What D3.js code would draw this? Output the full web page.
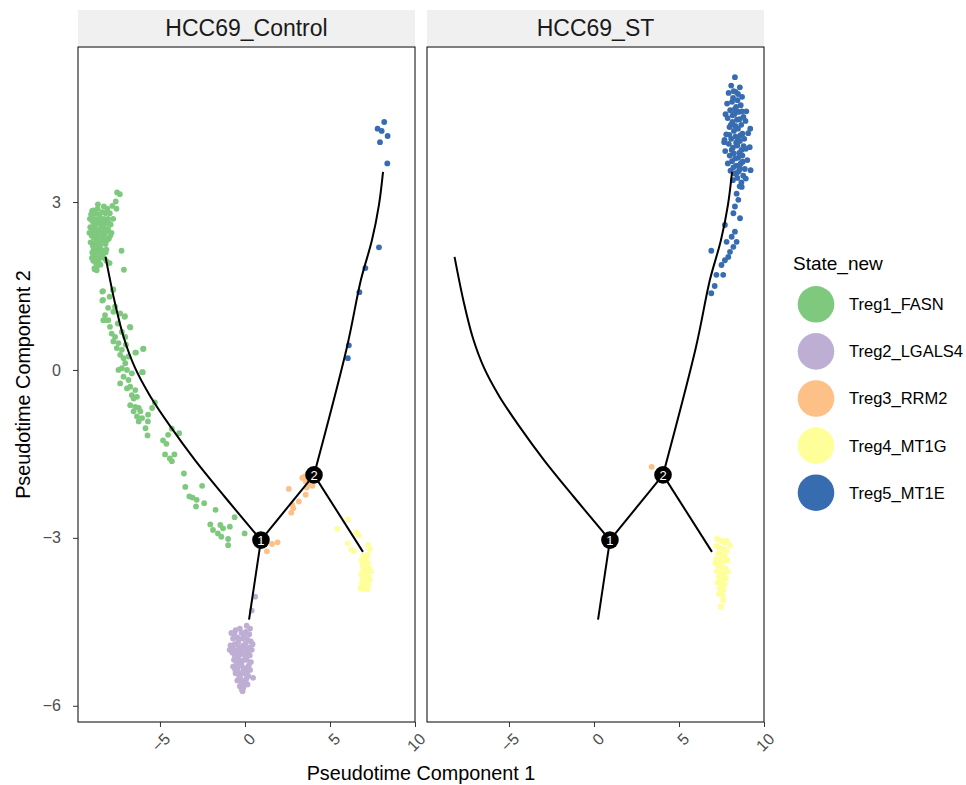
<!DOCTYPE html>
<html><head><meta charset="utf-8">
<script src="https://cdn.jsdelivr.net/npm/d3@7"></script>
<style>body{margin:0;background:#fff;} text{font-family:"Liberation Sans",Arial,sans-serif;}</style>
</head><body><svg id="c" width="966" height="785"></svg>
<script>
const states = ["Treg1_FASN","Treg2_LGALS4","Treg3_RRM2","Treg4_MT1G","Treg5_MT1E"];
const stateColors = ["#7FC97F","#BEAED4","#FDC086","#FFFF99","#386CB0"];
const panelNames = ["HCC69_Control","HCC69_ST"];
const xTicks = [-5,0,5,10];
const yTicks = [-6,-3,0,3];
const xDomain = [-9.82,10.0];
const yDomain = [-6.29,5.77];

// HCC69_Control cells
const ctrlTreg1 = [
[-9.05,2.78],[-8.92,2.85],[-8.80,2.80],[-8.66,2.88],[-8.55,2.76],[-8.40,2.82],[-8.30,2.70],[-8.98,2.66],[-8.85,2.70],[-8.70,2.62],
[-8.58,2.68],[-8.45,2.60],[-8.32,2.55],[-8.20,2.62],[-9.10,2.55],[-8.95,2.50],[-8.82,2.56],[-8.68,2.48],[-8.52,2.52],[-8.38,2.44],
[-8.25,2.40],[-8.12,2.48],[-9.02,2.40],[-8.90,2.36],[-8.76,2.42],[-8.62,2.34],[-8.48,2.38],[-8.35,2.30],[-8.20,2.25],[-9.08,2.28],
[-8.95,2.22],[-8.80,2.26],[-8.66,2.18],[-8.52,2.22],[-8.40,2.14],[-8.98,2.10],[-8.85,2.06],[-8.72,2.12],[-8.58,2.02],[-8.45,2.08],
[-8.92,1.95],[-8.78,1.92],[-8.64,1.96],[-8.50,1.88],[-8.84,1.80],[-8.70,1.85],[-8.05,2.70],[-7.95,2.80],[-8.10,2.88],[-7.90,2.60],
[-8.00,2.35],[-8.15,2.15],[-7.85,2.45],[-7.60,3.01],[-7.80,2.93],[-7.52,3.17],[-7.36,3.14],[-8.65,2.96],[-8.99,2.84],[-7.56,2.88],
[-7.26,2.13],[-7.12,1.79],[-7.96,1.91],[-8.85,1.82],[-9.15,2.45],[-9.12,2.70],[-8.30,2.92],[-8.20,2.80],[-8.05,2.52],[-7.75,2.70],
[-8.30,2.00],[-8.15,1.95],
[-8.88,2.62],[-8.62,2.78],[-8.74,2.30],[-8.47,2.48],[-8.90,2.16],[-8.58,2.12],[-8.34,2.36],[-8.78,2.02],[-8.60,1.92],[-8.26,2.50],
[-8.42,2.68],[-8.86,2.42],[-9.00,2.00],[-8.72,1.78],[-8.50,2.28],[-8.20,2.10],[-8.10,2.32],[-8.00,2.62],[-7.92,2.40],[-8.40,2.02],
[-8.35,1.41],[-8.35,1.25],[-7.76,1.43],[-7.96,1.31],[-8.05,1.11],[-7.06,0.96],[-6.77,0.77],[-8.26,0.89],[-5.97,0.38],[-6.41,0.31],
[-6.01,-0.04],[-8.39,1.40],[-7.74,1.44],[-8.39,1.24],[-7.08,0.95],[-6.74,0.76],[-5.99,0.375],[-6.45,0.31],[-6.05,-0.04],[-5.30,-0.58],
[-5.46,-0.68],[-5.71,-0.92],[-5.85,-1.04],[-5.73,-1.17],[-4.30,-1.05],[-3.87,-1.13],[-4.52,-1.16],[-4.82,-1.26],[-4.62,-1.32],[-4.70,-1.51],
[-4.15,-1.51],[-4.42,-1.58],[-4.30,-1.63],[-3.59,-1.85],[-3.51,-2.09],[-2.52,-2.07],[-3.27,-2.26],[-3.08,-2.28],[-2.84,-2.32],[-2.88,-2.44],
[-2.40,-2.38],[-1.73,-2.50],[-0.61,-2.63],[-2.04,-2.76],[-1.88,-2.86],[-1.45,-2.77],[-1.29,-2.83],[-0.89,-2.80],[-1.59,-2.92],[-1.39,-2.98],
[-0.99,-3.02],[-0.99,-3.13],[-0.02,-2.92],
[-8.23,0.98],[-8.04,0.89],[-8.33,0.89],[-7.94,0.77],[-7.84,0.65],[-7.64,0.59],[-7.74,0.51],[-7.44,0.48],[-7.54,0.39],[-7.24,0.36],
[-7.34,0.27],[-7.14,0.21],[-7.04,0.12],[-7.24,0.03],[-6.94,0.00],[-7.14,-0.12],[-7.34,-0.24],[-6.85,-0.18],[-6.75,-0.30],[-6.94,-0.33],
[-6.45,-0.36],[-6.65,-0.45],[-6.55,-0.51],[-6.35,-0.48],[-6.75,-0.63],[-6.45,-0.66],[-6.25,-0.68],[-6.55,-0.74],[-6.15,-0.74],[-6.35,-0.83],
[-6.05,-0.86],[-6.25,-0.92],[-5.70,-0.80],[-7.64,1.13],[-7.34,1.01],[-7.74,1.04],[-7.48,0.83],[-7.24,0.68],[-7.04,0.59],[-7.00,0.45],
[-6.85,0.24],[-6.65,-0.06],[-7.44,0.00]
];
const ctrlTreg2 = [
[0.60,-4.05],[0.40,-4.30],[0.10,-4.57],
[-0.80,-4.70],[-0.55,-4.65],[-0.30,-4.62],[0.05,-4.68],[0.25,-4.72],[-0.70,-4.80],[-0.45,-4.78],[-0.15,-4.80],[0.15,-4.82],[0.35,-4.85],
[-0.85,-4.92],[-0.60,-4.90],[-0.35,-4.95],[-0.10,-4.92],[0.20,-4.96],[0.40,-5.00],[-0.75,-5.05],[-0.50,-5.02],[-0.25,-5.08],[0.00,-5.05],
[0.28,-5.10],[-0.65,-5.18],[-0.40,-5.15],[-0.15,-5.20],[0.10,-5.18],[0.35,-5.22],[-0.70,-5.30],[-0.45,-5.32],[-0.20,-5.28],[0.05,-5.33],
[0.30,-5.36],[-0.55,-5.42],[-0.30,-5.45],[-0.05,-5.42],[0.20,-5.47],[-0.45,-5.55],[-0.20,-5.58],[0.05,-5.55],[0.48,-5.50],[-0.30,-5.65],
[-0.10,-5.68],[-0.14,-5.74],[0.15,-5.62],[-0.60,-5.10],[0.45,-4.90],[-0.90,-5.00],[-0.20,-4.70],[0.30,-4.62],[0.00,-4.95],[-0.50,-5.25],
[0.12,-5.40],[-0.35,-5.50],
[-0.62,-4.72],[-0.05,-4.76],[-0.40,-4.86],[0.05,-4.88],[-0.70,-4.98],[-0.22,-5.00],[0.18,-5.04],[-0.52,-5.12],[0.02,-5.14],[-0.30,-5.22],
[0.22,-5.28],[-0.58,-5.35],[-0.10,-5.36],[-0.40,-5.40],[0.10,-5.50],[-0.25,-5.52],[-0.05,-5.62],[-0.20,-5.70]
];
const ctrlTreg3 = [
[2.58,-2.125],[3.37,-1.93],[3.57,-1.99],[3.71,-2.07],[3.87,-2.02],[3.51,-1.90],[3.63,-2.10],[3.57,-2.23],[3.17,-2.35],[2.78,-2.41],
[2.84,-2.47],[2.72,-2.55],[3.97,-2.07],[1.59,-3.11],[1.92,-3.08],[1.29,-3.24]
];
const ctrlTreg4 = [
[6.05,-2.67],[5.42,-2.84],[6.55,-2.90],[6.69,-2.96],[6.05,-3.10],[6.25,-3.21],[6.41,-3.24],[7.24,-3.125],[7.34,-3.20],
[6.95,-3.32],[7.15,-3.35],[6.85,-3.40],[7.05,-3.42],[7.25,-3.45],[6.90,-3.50],[7.10,-3.52],[7.30,-3.55],[6.95,-3.58],[7.15,-3.62],
[6.85,-3.65],[7.05,-3.68],[7.28,-3.70],[6.92,-3.74],[7.12,-3.76],[7.35,-3.75],[6.88,-3.82],[7.08,-3.84],[7.25,-3.85],[6.80,-3.90],
[7.00,-3.92],[7.20,-3.92],[7.40,-3.60],[7.20,-3.30]
];
const ctrlTreg5 = [
[8.19,4.43],[7.80,4.31],[8.04,4.27],[8.39,4.18],[7.94,4.07],[8.37,3.69],[7.88,2.19],[7.08,1.82],[6.73,1.39],[6.11,0.44],[6.05,0.21]
];

// HCC69_ST cells
const stTreg1 = [];
const stTreg2 = [];
const stTreg3 = [[3.39,-1.73]];
const stTreg4 = [
[7.25,-3.02],[7.45,-3.05],[7.65,-3.08],[7.99,-3.13],[7.20,-3.15],[7.40,-3.18],[7.60,-3.20],[7.80,-3.22],[7.30,-3.28],[7.50,-3.30],
[7.70,-3.32],[7.20,-3.38],[7.42,-3.40],[7.62,-3.42],[7.85,-3.40],[7.30,-3.50],[7.50,-3.52],[7.72,-3.54],[7.22,-3.60],[7.45,-3.62],
[7.65,-3.64],[7.88,-3.60],[7.35,-3.70],[7.55,-3.72],[7.75,-3.72],[7.28,-3.80],[7.48,-3.82],[7.68,-3.84],[7.40,-3.90],[7.60,-3.93],
[7.35,-4.00],[7.55,-4.02],[7.60,-4.11],[7.46,-4.23],[7.15,-3.45],[7.80,-3.05]
];
const stTreg5 = [
[8.07,5.08],[8.33,4.97],[8.58,5.05],[7.92,4.95],[8.18,4.86],[8.47,4.93],[8.71,4.88],[7.83,4.76],[8.12,4.79],[8.36,4.70],
[8.63,4.73],[8.01,4.64],[8.26,4.57],[8.51,4.61],[8.79,4.52],[7.86,4.50],[8.14,4.43],[8.41,4.47],[8.66,4.38],[8.91,4.45],
[7.97,4.34],[8.23,4.27],[8.47,4.31],[8.73,4.22],[7.78,4.21],[8.07,4.13],[8.32,4.17],[8.58,4.09],[8.84,4.13],[9.07,4.23],
[7.93,4.04],[8.17,3.97],[8.43,4.01],[8.68,3.93],[8.93,3.95],[7.72,3.91],[7.98,3.83],[8.22,3.87],[8.48,3.79],[8.73,3.83],
[9.02,3.75],[7.87,3.69],[8.12,3.73],[8.37,3.65],[8.63,3.69],[8.87,3.59],[9.21,3.57],[8.03,3.56],[8.27,3.51],[8.52,3.55],
[8.78,3.47],[8.17,3.39],[8.43,3.43],[8.67,3.35],[8.93,3.42],[8.57,3.28],[8.29,5.23],[7.66,4.07],[9.16,3.98],[8.96,4.62],
[7.74,4.57],[9.19,4.31],[7.68,4.11],
[8.22,4.98],[8.44,4.82],[8.28,4.66],[8.56,4.48],[8.31,4.36],[8.60,4.19],[8.36,4.06],[8.54,3.88],[8.30,3.78],[8.58,3.60],
[8.40,3.52],[8.15,4.55],[8.05,4.38],[8.80,4.00],[8.10,3.93],[8.70,4.62],[7.96,4.20],[8.46,4.12],[8.20,3.62],[8.75,3.72],
[8.69,3.27],[8.39,3.15],[8.49,3.04],[8.29,2.92],[8.20,2.80],[8.59,2.71],[7.70,2.59],[8.29,2.47],[8.10,2.38],[8.39,2.29],
[7.80,2.29],[8.20,2.20],[8.00,2.11],[6.90,2.13],[7.90,2.02],[7.70,1.96],[7.50,1.875],[7.20,1.70],[7.60,1.70],[7.10,1.50],[6.90,1.37]
];

// trajectory tree (shared by both panels)
const treeGreenBranch = [[-8.20,2.02],[-7.65,1.20],[-7.12,0.57],[-6.47,0.04],[-5.59,-0.46],[-4.41,-1.00],[-2.94,-1.61],[-1.18,-2.27],[0.94,-3.04]];
const treePurpleBranch = [[0.94,-3.04],[0.24,-4.46]];
const treeMiddleBranch = [[0.94,-3.04],[4.06,-1.875]];
const treeYellowBranch = [[4.06,-1.875],[6.94,-3.25]];
const treeBlueBranch = [[4.06,-1.875],[6.00,0.41],[6.82,1.61],[7.47,2.32],[7.88,2.95],[8.12,3.54]];
const branchNodeIds = ["1","2"];
const branchNodeXY = [[0.94,-3.04],[4.06,-1.875]];

const panelCells = [
  [ctrlTreg1, ctrlTreg2, ctrlTreg3, ctrlTreg4, ctrlTreg5],
  [stTreg1, stTreg2, stTreg3, stTreg4, stTreg5]
];
const treeBranches = [treeGreenBranch, treePurpleBranch, treeMiddleBranch, treeYellowBranch, treeBlueBranch];

const svg = d3.select("#c");
const pw = 337, ph = 675, py0 = 47;
const panelX = [78, 427];
const x = d3.scaleLinear().domain(xDomain).range([0, pw]);
const y = d3.scaleLinear().domain(yDomain).range([ph, 0]);
const color = d3.scaleOrdinal().domain(states).range(stateColors);
const line = d3.line().x(d => x(d[0])).y(d => y(d[1])).curve(d3.curveCatmullRom.alpha(0.5));

panelNames.forEach((name, pi) => {
  const g = svg.append("g").attr("transform", `translate(${panelX[pi]},${py0})`);
  g.append("rect").attr("x", 0).attr("y", -37).attr("width", pw).attr("height", 36).attr("fill", "#f0f0f0");
  g.append("text").attr("x", pw/2).attr("y", -11.5).attr("text-anchor", "middle")
    .attr("font-size", 23).attr("fill", "#1a1a1a").text(name);
  panelCells[pi].forEach((pts, si) => {
    g.append("g").selectAll("circle").data(pts).join("circle")
      .attr("cx", d => x(d[0])).attr("cy", d => y(d[1])).attr("r", 2.9)
      .attr("fill", color(states[si]));
  });
  treeBranches.forEach(b => {
    g.append("path").attr("d", line(b)).attr("fill", "none").attr("stroke", "#000").attr("stroke-width", 2);
  });
  branchNodeXY.forEach((p, i) => {
    g.append("circle").attr("cx", x(p[0])).attr("cy", y(p[1])).attr("r", 8.8).attr("fill", "#000");
    g.append("text").attr("x", x(p[0])).attr("y", y(p[1])).attr("dy", "0.36em").attr("text-anchor", "middle")
      .attr("font-size", 13).attr("fill", "#fff").text(branchNodeIds[i]);
  });
  g.append("rect").attr("width", pw).attr("height", ph).attr("fill", "none").attr("stroke", "#000").attr("stroke-width", 1);
  const xa = g.append("g").attr("transform", `translate(0,${ph})`)
    .call(d3.axisBottom(x).tickValues(xTicks).tickSize(5).tickFormat(d3.format("d")));
  xa.select(".domain").remove();
  xa.selectAll(".tick line").attr("stroke", "#333");
  xa.selectAll(".tick text").attr("font-size", 16).attr("fill", "#4d4d4d")
    .attr("font-family", '"Liberation Sans",Arial,sans-serif')
    .attr("text-anchor", "end").attr("dy", null).attr("y", null)
    .attr("transform", "translate(3,10) rotate(-45)").attr("dominant-baseline", "hanging");
  if (pi === 0) {
    const ya = g.append("g").call(d3.axisLeft(y).tickValues(yTicks).tickSize(5).tickFormat(d3.format("d")));
    ya.select(".domain").remove();
    ya.selectAll(".tick line").attr("stroke", "#333");
    ya.selectAll(".tick text").attr("font-size", 16).attr("fill", "#4d4d4d")
      .attr("font-family", '"Liberation Sans",Arial,sans-serif').attr("x", -17);
  }
});

svg.append("text").attr("x", (panelX[0] + panelX[1] + pw)/2).attr("y", 780).attr("text-anchor", "middle")
  .attr("font-size", 19.8).attr("fill", "#000").text("Pseudotime Component 1");
svg.append("text").attr("transform", `translate(30,${py0 + ph/2}) rotate(-90)`).attr("text-anchor", "middle")
  .attr("font-size", 19.8).attr("fill", "#000").text("Pseudotime Component 2");

const lg = svg.append("g");
lg.append("text").attr("x", 793).attr("y", 270).attr("font-size", 19).attr("fill", "#000").text("State_new");
states.forEach((s, i) => {
  const cy = 304.3 + i * 47.1;
  lg.append("circle").attr("cx", 816).attr("cy", cy).attr("r", 18.3).attr("fill", color(s));
  lg.append("text").attr("x", 849).attr("y", cy).attr("dy", "0.36em").attr("font-size", 16.5).attr("fill", "#000").text(s);
});
</script></body></html>
